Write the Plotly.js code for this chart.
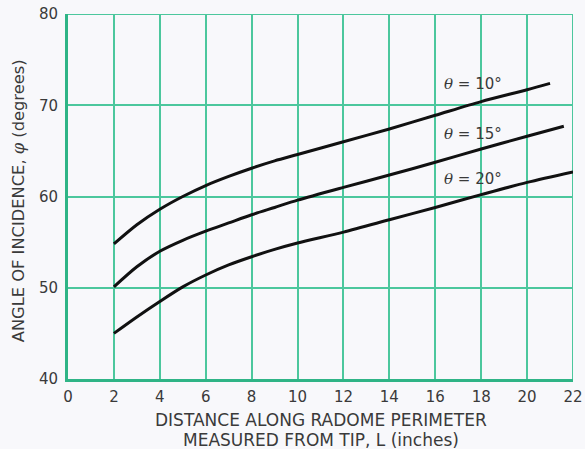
<!DOCTYPE html>
<html>
<head>
<meta charset="utf-8">
<script src="https://cdn.plot.ly/plotly-3.0.1.min.js"></script>
<style>
html,body{margin:0;padding:0;background:#f8f8fb;}
#chart{width:585px;height:449px;}
</style>
</head>
<body>
<div id="chart"></div>
<script>
// Data
const x10 = [2, 3, 4, 5, 6, 7, 8, 9, 10, 12, 14, 16, 18, 20, 21];
const y10 = [54.8, 56.9, 58.6, 60.0, 61.2, 62.2, 63.1, 63.9, 64.6, 66.0, 67.4, 68.9, 70.4, 71.7, 72.4];
const x15 = [2, 3, 4, 5, 6, 7, 8, 9, 10, 12, 14, 16, 18, 20, 21.6];
const y15 = [50.1, 52.3, 54.0, 55.2, 56.2, 57.1, 58.0, 58.8, 59.6, 61.0, 62.35, 63.75, 65.2, 66.6, 67.7];
const x20 = [2, 3, 4, 5, 6, 7, 8, 9, 10, 12, 14, 16, 18, 20, 22];
const y20 = [45.0, 46.8, 48.5, 50.1, 51.4, 52.5, 53.4, 54.2, 54.9, 56.1, 57.45, 58.8, 60.2, 61.55, 62.7];
const thetaValues = ["10", "15", "20"];
const labelX = [17.64, 17.64, 17.64];
const labelY = [72.33, 66.85, 61.88];
const xTicks = [0, 2, 4, 6, 8, 10, 12, 14, 16, 18, 20, 22];
const yTicks = [40, 50, 60, 70, 80];
const xTitle1 = "DISTANCE ALONG RADOME PERIMETER";
const xTitle2 = "MEASURED FROM TIP, L (inches)";
const yTitle = "ANGLE OF INCIDENCE, <span style=\"font-family:'DejaVu Serif'\"><i>φ</i></span> (degrees)";

const FONT = "'DejaVu Sans', sans-serif";
const GRID = "#4cc79d";
const AXIS = "#2fb486";
const TXT = "#3a3a3a";

const line = {color: "#111", width: 3, shape: "spline", smoothing: 0.8};
const traces = [
  {x: x10, y: y10, mode: "lines", line: line, hoverinfo: "skip"},
  {x: x15, y: y15, mode: "lines", line: line, hoverinfo: "skip"},
  {x: x20, y: y20, mode: "lines", line: line, hoverinfo: "skip"}
];

const annotations = thetaValues.map((v, i) => ({
  x: labelX[i], y: labelY[i], xref: "x", yref: "y", showarrow: false,
  text: "<span style=\"font-family:'DejaVu Serif'\"><i>θ</i></span> = " + v + "°",
  font: {family: FONT, size: 15, color: TXT}
}));
annotations.push({
  xref: "paper", yref: "paper", x: 0.5, y: -0.1123, yanchor: "middle", showarrow: false,
  text: xTitle1, font: {family: FONT, size: 17, color: TXT}
});
annotations.push({
  xref: "paper", yref: "paper", x: 0.5, y: -0.167, yanchor: "middle", showarrow: false,
  text: xTitle2, font: {family: FONT, size: 17, color: TXT}
});
annotations.push({
  xref: "paper", yref: "paper", x: 0, xshift: -50, y: 0.487, xanchor: "center", yanchor: "middle",
  textangle: -90, showarrow: false,
  text: yTitle, font: {family: FONT, size: 16.3, color: TXT}
});

const layout = {
  width: 585, height: 449,
  margin: {l: 68, r: 12, t: 14, b: 70},
  paper_bgcolor: "#f8f8fb", plot_bgcolor: "#f8f8fb",
  showlegend: false,
  xaxis: {
    range: [0, 22], tickvals: xTicks, ticktext: xTicks.map(String),
    showgrid: true, gridcolor: GRID, gridwidth: 2, zeroline: false,
    showline: true, linecolor: AXIS, linewidth: 3, ticks: "",
    tickfont: {family: FONT, size: 15, color: TXT}, ticklabelstandoff: 2
  },
  yaxis: {
    range: [40, 80], tickvals: yTicks, ticktext: yTicks.map(String),
    showgrid: true, gridcolor: GRID, gridwidth: 2, zeroline: false,
    showline: true, linecolor: AXIS, linewidth: 3, ticks: "",
    tickfont: {family: FONT, size: 15, color: TXT}, ticklabelstandoff: 4
  },
  shapes: [
    {type: "line", xref: "x", yref: "y", x0: 0, x1: 22, y0: 80, y1: 80, line: {color: GRID, width: 2}, layer: "below"},
    {type: "line", xref: "x", yref: "y", x0: 22, x1: 22, y0: 40, y1: 80, line: {color: GRID, width: 2}, layer: "below"}
  ],
  annotations: annotations
};

Plotly.newPlot("chart", traces, layout, {staticPlot: true, displayModeBar: false});
</script>
</body>
</html>
